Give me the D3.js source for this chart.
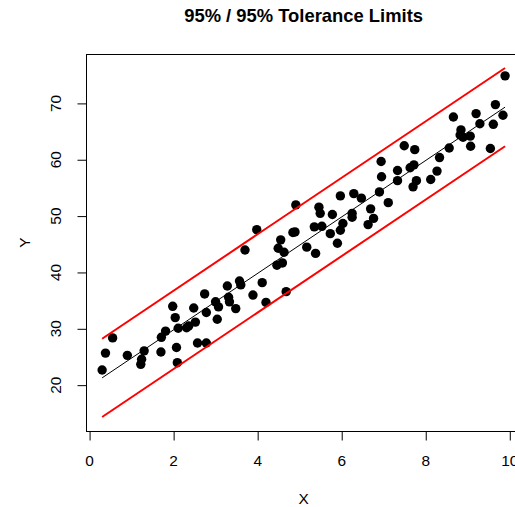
<!DOCTYPE html>
<html>
<head>
<meta charset="utf-8">
<script src="https://cdn.jsdelivr.net/npm/d3@7"></script>
<style>
  body { margin: 0; background: #fff; }
  svg { display: block; font-family: "Liberation Sans", Arial, Helvetica, sans-serif; }
</style>
</head>
<body>
<div id="chart"></div>
<script>
var xs = [0.31, 0.39, 0.56, 0.91, 1.25, 1.23, 1.31, 1.71, 1.72, 1.82,
          1.99, 2.05, 2.08, 2.10, 2.12, 2.32, 2.37, 2.49, 2.53, 2.58,
          2.75, 2.79, 2.79, 3.01, 3.05, 3.08, 3.29, 3.32, 3.34, 3.49,
          3.58, 3.61, 3.71, 3.90, 3.99, 4.12, 4.21, 4.47, 4.60, 4.50,
          4.56, 4.64, 4.69, 4.85, 4.90, 4.92, 5.18, 5.39, 5.36, 5.54,
          5.47, 5.50, 5.74, 5.79, 5.91, 5.98, 5.98, 6.04, 6.26, 6.26,
          6.30, 6.48, 6.64, 6.70, 6.77, 6.91, 6.95, 6.96, 7.12, 7.34,
          7.34, 7.50, 7.64, 7.73, 7.75, 7.71, 7.79, 8.13, 8.28, 8.34,
          8.57, 8.67, 8.85, 8.83, 8.90, 9.07, 9.08, 9.21, 9.30, 9.55,
          9.62, 9.67, 9.85, 9.90];
var ys = [22.6, 25.6, 28.3, 25.2, 24.5, 23.6, 26.0, 25.8, 28.4, 29.5,
          33.9, 31.9, 26.6, 23.9, 30.0, 30.1, 30.4, 33.6, 31.1, 27.4,
          36.1, 32.8, 27.4, 34.7, 31.6, 33.8, 37.5, 35.5, 34.7, 33.5,
          38.4, 37.7, 43.9, 35.9, 47.5, 38.1, 34.6, 41.2, 41.6, 44.2,
          45.7, 43.5, 36.5, 47.0, 47.1, 51.9, 44.4, 43.3, 48.0, 48.1,
          51.5, 50.4, 46.8, 50.2, 45.1, 47.4, 53.5, 48.6, 50.4, 49.7,
          53.9, 53.1, 48.4, 51.2, 49.5, 54.2, 59.6, 56.9, 52.3, 58.0,
          56.2, 62.4, 58.5, 59.0, 61.7, 55.1, 56.2, 56.4, 57.9, 60.3,
          62.0, 67.5, 65.2, 64.3, 63.9, 64.1, 62.3, 68.1, 66.3, 61.9,
          66.2, 69.7, 67.8, 74.8];

// fitted line and 95%/95% tolerance half-width (estimated)
var fitIntercept = 19.65;
var fitSlope = 5.01;
var tolHalf = 6.95;

var xTicks = [0, 2, 4, 6, 8, 10];
var yTicks = [20, 30, 40, 50, 60, 70];

var titleText = "95% / 95% Tolerance Limits";
var xLabel = "X", yLabel = "Y";

var width = 515, height = 507;
var plotLeft = 86, plotRight = 521.2, plotTop = 54, plotBottom = 431;

var points = xs.map(function(d, i) { return {x: d, y: ys[i]}; });

var xMin = d3.min(xs), xMax = d3.max(xs);
var ends = [xMin, xMax];
var fitAt = function(x) { return fitIntercept + fitSlope * x; };
var lines = [
  {name: "upper", color: "red", width: 2, off: tolHalf},
  {name: "fit", color: "black", width: 1, off: 0},
  {name: "lower", color: "red", width: 2, off: -tolHalf}
];

// R style 4% padding of the axis ranges
function pad(lo, hi) { var r = hi - lo; return [lo - 0.04 * r, hi + 0.04 * r]; }
var yLo = d3.min([d3.min(ys), fitAt(xMin) - tolHalf]);
var yHi = d3.max([d3.max(ys), fitAt(xMax) + tolHalf]);

var x = d3.scaleLinear().domain(pad(xMin, xMax)).range([plotLeft, plotRight]);
var y = d3.scaleLinear().domain(pad(yLo, yHi)).range([plotBottom, plotTop]);

var svg = d3.select("#chart").append("svg")
    .attr("width", width)
    .attr("height", height);

// points
svg.append("g").attr("id", "points")
  .selectAll("circle")
  .data(points)
  .enter()
  .append("circle")
  .attr("cx", function(d) { return x(d.x); })
  .attr("cy", function(d) { return y(d.y); })
  .attr("r", 4.7)
  .style("fill", "black");

// fit and tolerance lines
svg.append("g").attr("id", "lines")
  .selectAll("line")
  .data(lines)
  .enter()
  .append("line")
  .attr("x1", x(ends[0]))
  .attr("x2", x(ends[1]))
  .attr("y1", function(d) { return y(fitAt(ends[0]) + d.off); })
  .attr("y2", function(d) { return y(fitAt(ends[1]) + d.off); })
  .style("stroke", function(d) { return d.color; })
  .style("stroke-width", function(d) { return d.width; });

// box
svg.append("rect")
  .attr("x", plotLeft + 0.5)
  .attr("y", plotTop + 0.5)
  .attr("width", plotRight - plotLeft)
  .attr("height", plotBottom - plotTop)
  .style("fill", "none")
  .style("stroke", "black")
  .style("stroke-width", 1);

// axes
var xAxis = d3.axisBottom(x).tickValues(xTicks).tickSize(9).tickPadding(15).tickFormat(d3.format("d"));
var gx = svg.append("g").attr("transform", "translate(0," + (plotBottom + 0.5) + ")").call(xAxis);
gx.select(".domain").remove();
gx.selectAll("text").style("font-size", "15.4px").style("fill", "black");
gx.selectAll(".tick line").attr("transform", "translate(0.5,0)");

var yAxis = d3.axisLeft(y).tickValues(yTicks).tickSize(9).tickFormat(d3.format("d"));
var gy = svg.append("g").attr("transform", "translate(" + (plotLeft + 0.5) + ",0)").call(yAxis);
gy.select(".domain").remove();
gy.selectAll(".tick line").attr("transform", "translate(0,0.5)");
gy.selectAll("text")
  .attr("x", null).attr("dy", null)
  .attr("text-anchor", "middle")
  .attr("transform", "translate(-26,0) rotate(-90)")
  .style("font-size", "15.4px").style("fill", "black");

// title and axis labels
svg.append("text")
  .attr("x", (plotLeft + plotRight) / 2)
  .attr("y", 21.5)
  .attr("text-anchor", "middle")
  .style("font-size", "18.4px")
  .style("font-weight", "bold")
  .text(titleText);

svg.append("text")
  .attr("x", (plotLeft + plotRight) / 2)
  .attr("y", 504)
  .attr("text-anchor", "middle")
  .style("font-size", "15.4px")
  .text(xLabel);

svg.append("text")
  .attr("transform", "translate(30," + ((plotTop + plotBottom) / 2) + ") rotate(-90)")
  .attr("text-anchor", "middle")
  .style("font-size", "15.4px")
  .text(yLabel);
</script>
</body>
</html>
